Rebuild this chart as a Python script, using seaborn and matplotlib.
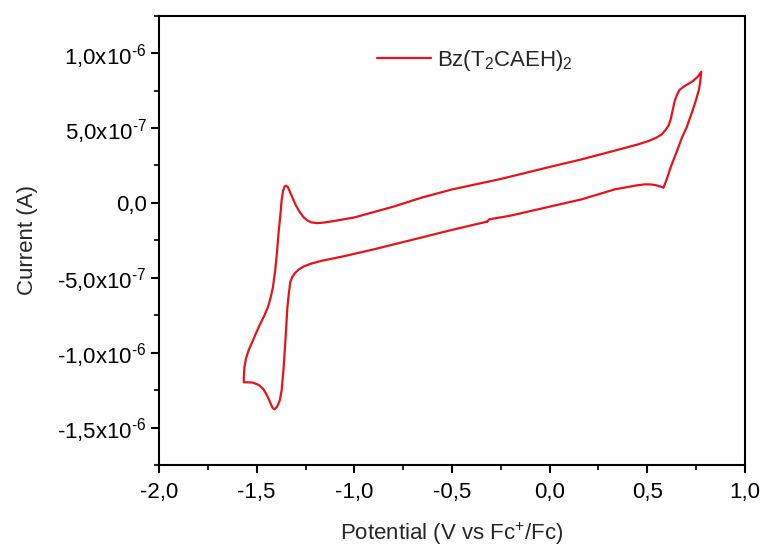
import matplotlib
matplotlib.use("Agg")
import matplotlib.pyplot as plt
from matplotlib.ticker import FuncFormatter, MultipleLocator
import seaborn as sns
import pandas as pd
import numpy as np

# Cyclic voltammogram, traced in scan order (V vs Fc+/Fc, current in microamps)
potential = [-0.32, -0.5, -0.656, -0.9, -1.05, -1.169, -1.22, -1.26, -1.285, -1.305,
             -1.318, -1.328, -1.335, -1.343, -1.352, -1.362, -1.372, -1.382, -1.395, -1.408,
             -1.418, -1.43, -1.445, -1.465, -1.49, -1.52, -1.545, -1.566, -1.566, -1.563,
             -1.555, -1.54, -1.52, -1.49, -1.46, -1.443, -1.43, -1.417, -1.405, -1.396,
             -1.388, -1.38, -1.372, -1.365, -1.357, -1.349, -1.34, -1.33, -1.315, -1.30,
             -1.28, -1.26, -1.24, -1.22, -1.19, -1.154, -1.1, -1.0, -0.8, -0.656,
             -0.5, -0.25, 0.0, 0.164, 0.35, 0.45, 0.506, 0.545, 0.574, 0.595,
             0.61, 0.62, 0.63, 0.64, 0.651, 0.665, 0.685, 0.71, 0.735, 0.76,
             0.776, 0.772, 0.765, 0.75, 0.73, 0.70, 0.677, 0.65, 0.62, 0.60,
             0.583, 0.565, 0.545, 0.52, 0.489, 0.45, 0.335, 0.164, 0.0, -0.2,
             -0.31, -0.32]
current_uA = [-0.125, -0.18, -0.231, -0.31, -0.355, -0.387, -0.405, -0.425, -0.445, -0.47,
              -0.495, -0.53, -0.6, -0.7, -0.9, -1.1, -1.25, -1.32, -1.36, -1.378,
              -1.37, -1.335, -1.29, -1.245, -1.215, -1.2, -1.198, -1.198, -1.17, -1.1,
              -1.04, -0.98, -0.92, -0.83, -0.75, -0.698, -0.64, -0.565, -0.45, -0.33,
              -0.2, -0.1, 0.02, 0.08, 0.11, 0.115, 0.105, 0.075, 0.03, -0.015,
              -0.06, -0.095, -0.118, -0.13, -0.135, -0.131, -0.12, -0.097, -0.025, 0.035,
              0.09, 0.16, 0.24, 0.291, 0.355, 0.39, 0.413, 0.435, 0.458, 0.49,
              0.52, 0.56, 0.62, 0.68, 0.72, 0.755, 0.775, 0.795, 0.815, 0.845,
              0.876, 0.82, 0.76, 0.69, 0.61, 0.5, 0.436, 0.34, 0.24, 0.16,
              0.102, 0.11, 0.118, 0.123, 0.124, 0.118, 0.091, 0.024, -0.025, -0.085,
              -0.11, -0.125]
series_label = r"Bz(T$_2$CAEH)$_2$"

df = pd.DataFrame({"Potential": potential,
                   "Current": np.array(current_uA) * 1e-6})

sns.set_style("ticks")
plt.rcParams["font.family"] = ["Liberation Sans", "DejaVu Sans"]
plt.rcParams["mathtext.fontset"] = "custom"
plt.rcParams["mathtext.rm"] = "Liberation Sans"
plt.rcParams["mathtext.it"] = "Liberation Sans"
plt.rcParams["axes.unicode_minus"] = False

FS = 16

fig = plt.figure(figsize=(7.63, 5.46), dpi=100)
ax = fig.add_axes([0.2084, 0.1484, 0.768, 0.8228])

sns.lineplot(data=df, x="Potential", y="Current", sort=False, estimator=None,
             color="#e3141c", linewidth=1.6, label=series_label, ax=ax)
for ln in ax.get_lines():
    ln.set_solid_joinstyle("round")

ax.set_xlim(-2.0, 1.0)
ax.set_ylim(-1.75e-6, 1.25e-6)
ax.xaxis.set_major_locator(MultipleLocator(0.5))
ax.xaxis.set_minor_locator(MultipleLocator(0.25))
ax.yaxis.set_major_locator(MultipleLocator(5e-7))
ax.yaxis.set_minor_locator(MultipleLocator(2.5e-7))


def xfmt(v, pos):
    return f"{v:.1f}".replace(".", ",")


def yfmt(v, pos):
    if abs(v) < 1e-12:
        return "0,0"
    exp = int(np.floor(np.log10(abs(v)) + 1e-9))
    mant = v / 10 ** exp
    return f"{mant:.1f}".replace(".", ",") + r"x10$^{\text{" + str(exp) + "}}$"


ax.xaxis.set_major_formatter(FuncFormatter(xfmt))
ax.yaxis.set_major_formatter(FuncFormatter(yfmt))

ax.tick_params(axis="both", which="major", direction="out", length=6, width=1.5,
               labelsize=FS, colors="black", pad=3)
ax.tick_params(axis="x", which="major", pad=6)
ax.tick_params(axis="both", which="minor", direction="out", length=3.5, width=1.5)
ax.tick_params(top=False, right=False, which="both")
for s in ax.spines.values():
    s.set_linewidth(1.5)
    s.set_color("black")

ax.set_xlabel("Potential (V vs Fc$^{+}$/Fc)", fontsize=FS, labelpad=13)
ax.set_ylabel("Current (A)", fontsize=FS, labelpad=14)

leg = ax.legend(loc="center left", bbox_to_anchor=(0.372, 0.901), frameon=False,
                fontsize=FS, handlelength=2.43, handletextpad=0.27, borderpad=0,
                borderaxespad=0)

fig.savefig("out.png", dpi=100, facecolor="white")
